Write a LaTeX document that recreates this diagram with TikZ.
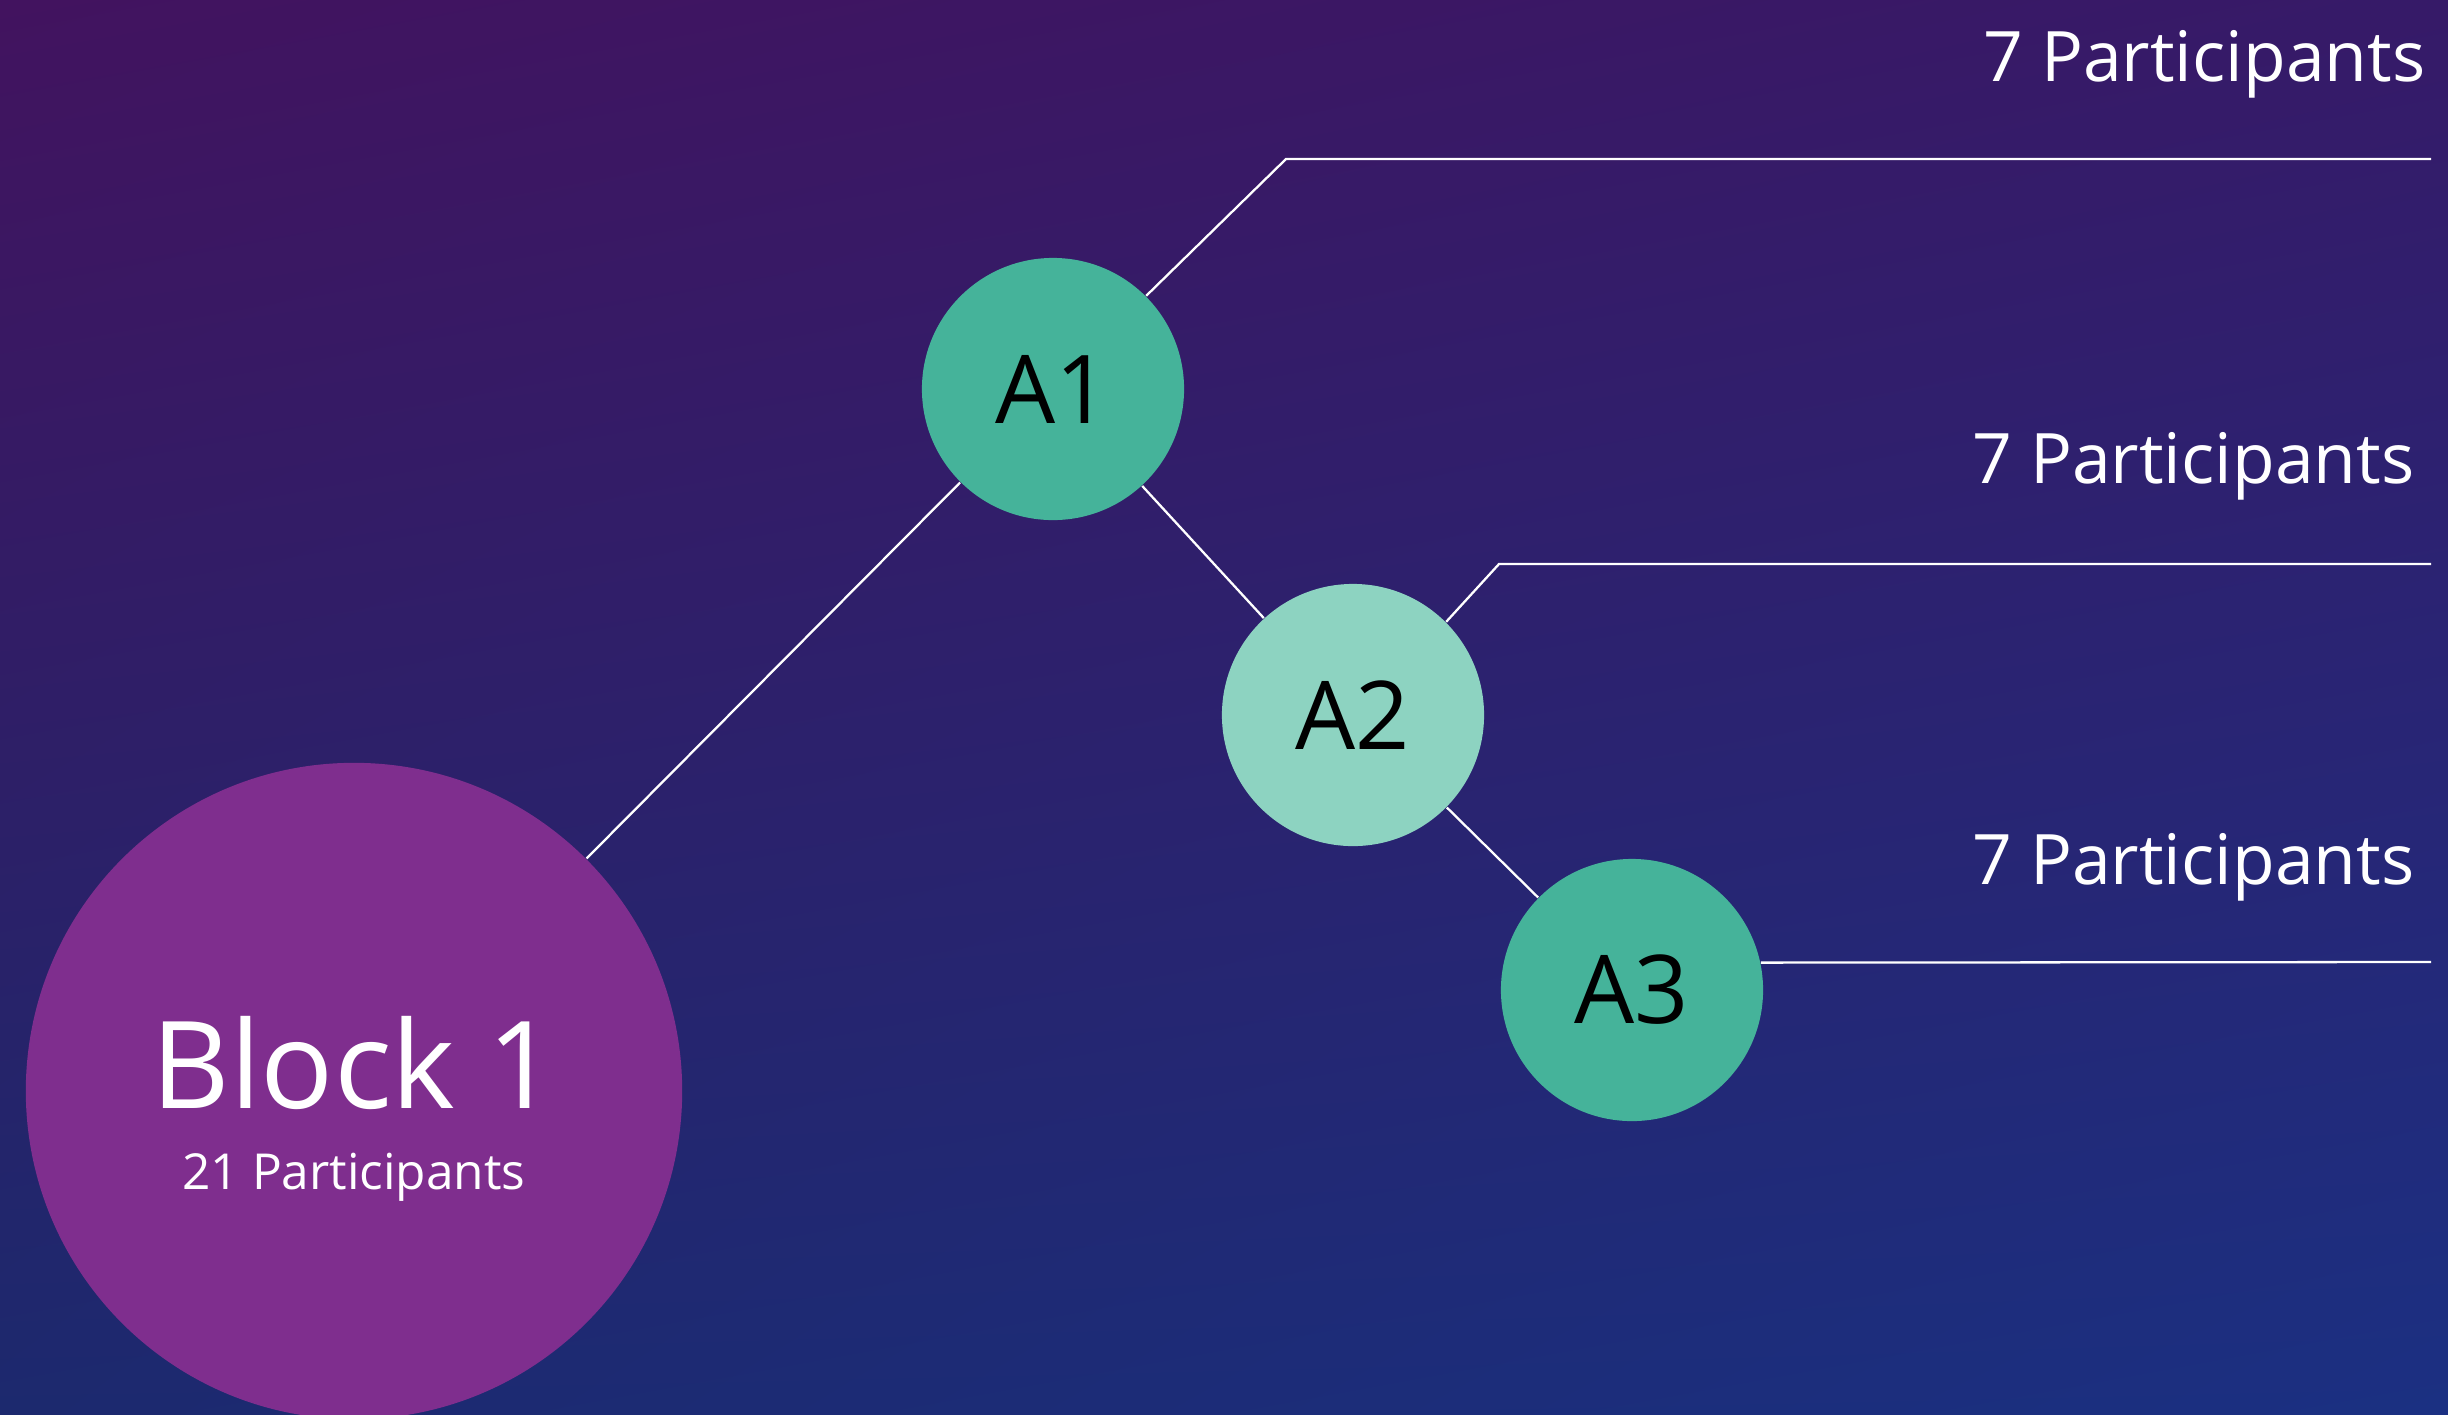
\documentclass[tikz,border=0pt]{standalone}
\usepackage{fontspec}
\setmainfont{Open Sans}
\usetikzlibrary{shadings}
\definecolor{bgUL}{HTML}{42135F}
\definecolor{bgUR}{HTML}{361A68}
\definecolor{bgLL}{HTML}{1C296E}
\definecolor{bgLR}{HTML}{1B3082}
\definecolor{tealA}{HTML}{45B39A}
\definecolor{tealB}{HTML}{8DD3C1}
\definecolor{blockC}{HTML}{7F2E8E}
\begin{document}
\begin{tikzpicture}[x=0.01cm,y=-0.01cm,
  anode/.style={circle,minimum size=2.62cm,inner sep=0pt,font=\fontsize{27}{31}\selectfont,text=black},
  conn/.style={draw=white,line width=0.65pt},
  ptext/.style={text=white,font=\fontsize{19.8}{24}\selectfont,inner sep=0pt,anchor=base east}]
\useasboundingbox (0,0) rectangle (2448,1414);
\shade[upper left=bgUL,upper right=bgUR,lower left=bgLL,lower right=bgLR] (0,0) rectangle (2448,1414);
\begin{scope}
\clip (0,0) rectangle (2448,1414);
\node[circle,fill=blockC,minimum size=6.56cm,inner sep=0pt] (blk) at (354,1091) {};
\end{scope}
\node[anode,fill=tealA] (a1) at (1053,389) {A1};
\node[anode,fill=tealB] (a2) at (1353,715) {A2};
\node[anode,fill=tealA] (a3) at (1632,990) {A3};
\node[text=white,font=\fontsize{34.5}{40}\selectfont,inner sep=0pt,anchor=base] (bt) at (354,1108) {Block 1};
\node[text=white,font=\fontsize{14.1}{18}\selectfont,inner sep=0pt,anchor=base] (bs) at (354,1189) {21 Participants};
\coordinate (c1) at (1286,159);
\coordinate (r1) at (2431,159);
\coordinate (c2) at (1499,564);
\coordinate (r2) at (2431,564);
\coordinate (r3) at (2431,962);
\draw[conn] (blk.45) -- (a1);
\draw[conn] (a1) -- (a2);
\draw[conn] (a2) -- (a3);
\draw[conn] (a1.45) -- (c1) -- (r1);
\draw[conn] (a2.45) -- (c2) -- (r2);
\draw[conn] (a3.12.3) -- (r3);
\node[ptext] (p1) at (2426,81) {7 Participants};
\node[ptext] (p2) at (2415,483) {7 Participants};
\node[ptext] (p3) at (2415,884) {7 Participants};
\end{tikzpicture}
\end{document}
